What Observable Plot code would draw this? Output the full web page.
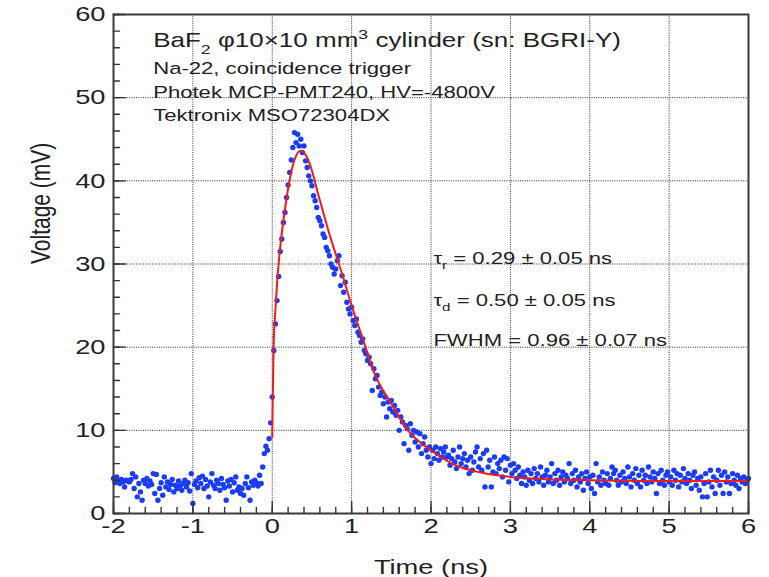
<!DOCTYPE html>
<html><head><meta charset="utf-8">
<script src="https://cdn.jsdelivr.net/npm/d3@7"></script>
<script src="https://cdn.jsdelivr.net/npm/@observablehq/plot@0.6"></script>
<style>body{margin:0;background:#fff;}</style>
</head><body><div id="chart"></div>
<script>
// ---- data ----
const sampleStart = -2;      // ns, first scope sample
const sampleStep = 0.02;     // ns between samples
const baselineVoltage = [
  4.2,3.7,4.4,3.9,3.6,4.1,3.8,3.2,4.0,3.9,
  3.8,4.1,4.8,3.0,4.4,2.0,3.6,2.6,1.6,4.0,
  3.6,4.2,3.3,3.9,3.5,4.8,2.4,4.7,1.6,3.0,
  3.7,2.2,4.4,3.2,3.8,2.9,3.5,4.1,2.6,3.4,
  3.0,3.9,3.3,2.8,3.6,4.0,3.2,3.7,2.7,4.8,
  1.2,3.5,3.9,3.1,4.3,3.6,4.5,3.0,4.1,3.3,
  2.0,3.8,4.8,3.4,3.0,4.0,3.6,2.8,4.2,3.5,
  3.1,1.6,3.9,3.3,4.1,2.6,3.7,4.4,2.8,3.2,
  2.4,3.0,2.2,3.6,4.4,3.1,1.6,3.8,3.4,4.0,
  3.7,3.3,4.6,3.6,5.6,7.2,8.1,7.6,9.0,10.9
];
const pulseVoltage = [
  14.0,19.6,22.8,25.6,28.5,31.5,33.0,35.0,36.2,38.0,
  39.5,41.0,42.5,44.0,45.8,44.6,45.6,44.2,45.0,43.4,44.2,
  42.4,41.6,40.6,40.0,39.4,38.2,37.6,36.8,35.6,35.2,
  34.6,33.6,33.2,32.0,31.6,31.0,30.0,29.6,28.8,29.4,
  30.4,31.0,27.4,28.6,26.6,27.8,25.4,24.6,24.0,24.8,
  23.2,22.6,23.4,21.8,21.4,20.6,21.0,19.6,19.2,18.4
];
const tailVoltage = [
  18.8,18.0,14.8,17.4,16.2,16.6,15.2,14.2,14.6,13.2,
  14.0,11.6,13.4,12.6,13.6,12.2,13.0,11.8,12.4,10.0,
  11.6,11.0,8.4,10.6,10.2,7.6,10.8,9.4,10.0,8.6,
  9.8,8.0,9.6,7.2,8.4,9.2,7.6,6.8,8.0,6.0,
  7.6,6.6,8.0,7.2,6.4,7.8,6.8,7.4,8.0,6.8,
  7.0,5.8,6.6,7.6,6.2,5.4,6.8,8.0,6.0,6.6,
  7.2,5.6,6.4,4.8,6.8,5.2,6.2,7.4,8.0,5.6,
  6.6,5.2,7.2,3.2,7.6,5.6,6.4,3.2,5.0,6.8,
  4.8,6.0,5.4,6.4,4.4,6.8,5.2,6.6,3.8,5.8,
  4.8,6.0,5.2,4.2,5.6,4.6,3.6,5.0,4.4,3.4,
  5.2,4.0,4.8,3.6,5.4,4.2,4.8,3.8,5.6,4.4,
  3.4,4.6,5.2,3.8,4.4,6.0,3.6,4.8,4.0,5.2,
  3.4,4.4,5.0,3.8,4.6,4.2,6.0,3.6,4.8,4.0,
  5.2,3.2,4.4,3.8,4.8,2.8,4.2,5.0,3.6,4.4,
  3.0,4.6,2.4,6.0,3.8,4.4,3.4,5.0,4.0,3.6,
  4.8,3.4,4.2,5.6,4.8,5.2,4.0,3.4,4.6,3.8,
  5.0,4.2,3.6,5.6,4.4,3.2,4.8,4.0,5.4,3.6,
  4.6,3.2,5.2,4.0,4.6,3.6,5.6,4.4,3.8,5.0,
  4.2,2.4,4.8,3.6,5.2,4.0,3.4,4.6,5.0,3.8,
  4.4,3.4,5.2,4.0,4.8,3.2,4.6,3.8,5.4,4.2,
  3.6,4.8,4.0,3.0,4.6,5.0,3.4,4.2,2.8,4.4,
  2.0,3.6,4.8,2.0,3.8,5.2,3.2,4.4,2.4,4.0,
  5.2,3.4,4.6,2.4,5.0,3.8,4.4,2.4,3.6,4.8,
  4.0,3.4,4.6,3.0,4.2,3.8,4.4,3.6,4.0,4.2
];
const fitTime    = [0, 0.005, 0.017, 0.04, 0.06, 0.10, 0.17, 0.25, 0.30, 0.35, 0.40, 0.47, 0.59, 0.72, 0.89, 1.00, 1.14, 1.29, 1.50, 1.71, 2.00, 2.31, 2.64, 3.00, 3.50, 4.00, 5.00, 6.00];
const fitVoltage = [9.2, 13.0, 20.0, 24.5, 27.6, 32.0, 37.2, 41.5, 43.0, 43.6, 43.4, 42.1, 38.0, 33.6, 28.5, 25.0, 21.0, 16.8, 13.2, 10.0, 7.6, 5.8, 4.9, 4.4, 4.1, 4.0, 3.9, 3.9];

const xTicks = [-2, -1, 0, 1, 2, 3, 4, 5, 6];
const yTicks = [0, 10, 20, 30, 40, 50, 60];
const xGrid = [-1, 0, 1, 2, 3, 4, 5];
const yGrid = [10, 20, 30, 40, 50];
const xMinorTicks = d3.range(-20, 61, 2).map(d => d / 10);
const yMinorTicks = d3.range(0, 61, 2);

const titleLine = ["BaF{_2} φ10×10 mm{^3} cylinder (sn: BGRI-Y)"];
const infoLines = ["Na-22, coincidence trigger", "Photek MCP-PMT240, HV=-4800V", "Tektronix MSO72304DX"];
const infoX = -1.5;
const titleY = [56.05];
const infoY = [52.9, 49.96, 47.15];
const fitResults = ["τ{_r} = 0.29 ± 0.05 ns", "τ{_d} = 0.50 ± 0.05 ns", "FWHM = 0.96 ± 0.07 ns"];
const fitResultX = 2.03;
const fitResultY = [30.05, 25.0, 20.2];

// ---- build ----
const voltage = baselineVoltage.concat(pulseVoltage, tailVoltage);
const samples = voltage.map((v, i) => ({t: sampleStart + i * sampleStep, v}));
const fit = fitTime.map((t, i) => ({t, v: fitVoltage[i]}));

const gridStyle = {stroke: "#2a2a2a", strokeOpacity: 1, strokeWidth: 1, strokeDasharray: "1,1.3"};
const tickShape = {draw(context, l) { context.moveTo(0, 0); context.lineTo(0, -l); }};
const tickStroke = {stroke: "#333", strokeWidth: 1.4, anchor: "start", shape: tickShape};

const plot = Plot.plot({
  width: 769, height: 577,
  marginLeft: 113, marginRight: 21, marginTop: 14, marginBottom: 64,
  x: {domain: [-2, 6]},
  y: {domain: [0, 60]},
  style: {fontFamily: "'Liberation Sans', Arial, sans-serif", color: "#222", background: "#fff", overflow: "visible"},
  marks: [
    Plot.gridX(xGrid, gridStyle),
    Plot.gridY(yGrid, gridStyle),
    Plot.dot(samples, {x: "t", y: "v", r: 2.7, fill: "#1a3cf5", stroke: null}),
    Plot.line(fit, {x: "t", y: "v", stroke: "#f21a1a", strokeWidth: 2, curve: "monotone-x"}),
    // inward ticks along the left and bottom axes
    Plot.vector(xMinorTicks, {x: d => d, frameAnchor: "bottom", rotate: 0, length: 6, ...tickStroke}),
    Plot.vector(xTicks, {x: d => d, frameAnchor: "bottom", rotate: 0, length: 12, ...tickStroke}),
    Plot.vector(yMinorTicks, {y: d => d, frameAnchor: "left", rotate: 90, length: 6, ...tickStroke}),
    Plot.vector(yTicks, {y: d => d, frameAnchor: "left", rotate: 90, length: 12, ...tickStroke}),
    Plot.frame({stroke: "#3a3a3a", strokeWidth: 2}),
    Plot.axisX(xTicks, {tickSize: 0, tickPadding: 5, fontSize: 21, label: null, tickFormat: d => String(d)}),
    Plot.axisY(yTicks, {tickSize: 0, tickPadding: 8, fontSize: 21, label: null, tickFormat: d => String(d)}),
    Plot.text(["Time (ns)"], {frameAnchor: "bottom", dy: 60, lineAnchor: "bottom", fontSize: 21, fill: "#222"}),
    Plot.text(["Voltage (mV)"], {frameAnchor: "left", dx: -64, rotate: -90, lineAnchor: "bottom", fontSize: 21, fill: "#222"}),
    Plot.text(titleLine, {x: () => infoX, y: (d, i) => titleY[i], text: d => d, textAnchor: "start", lineAnchor: "bottom", fontSize: 20, fill: "#222"}),
    Plot.text(infoLines, {x: () => infoX, y: (d, i) => infoY[i], text: d => d, textAnchor: "start", lineAnchor: "bottom", fontSize: 17, fill: "#222"}),
    Plot.text(fitResults, {x: () => fitResultX, y: (d, i) => fitResultY[i], text: d => d, textAnchor: "start", lineAnchor: "bottom", fontSize: 17, fill: "#222"})
  ]
});
document.getElementById("chart").appendChild(plot);

// ---- post-process: sub/superscripts and horizontal stretch of the reference ----
const NS = "http://www.w3.org/2000/svg";
plot.querySelectorAll("text").forEach(el => {
  const s = el.textContent;
  if (/\{[_^]/.test(s)) {
    const fs = parseFloat(getComputedStyle(el).fontSize) || 17;
    el.textContent = "";
    const re = /\{([_^])([^}]*)\}/g;
    let last = 0, m, pending = 0;
    const add = (txt, shift, small) => {
      const t = document.createElementNS(NS, "tspan");
      t.textContent = txt;
      const dy = shift - pending;
      if (dy) t.setAttribute("dy", dy);
      pending = shift;
      if (small) t.setAttribute("font-size", (fs * 0.68).toFixed(1));
      el.appendChild(t);
    };
    while ((m = re.exec(s))) {
      if (m.index > last) add(s.slice(last, m.index), 0, false);
      add(m[2], m[1] === "_" ? fs * 0.33 : -fs * 0.42, true);
      last = re.lastIndex;
    }
    if (last < s.length) add(s.slice(last), 0, false);
  }
  const tr = el.getAttribute("transform");
  if (tr) {
    el.setAttribute("transform", tr + (tr.includes("rotate") ? " scale(1,1.3)" : " scale(1.3,1)"));
  } else {
    const x = parseFloat(el.getAttribute("x")) || 0;
    el.setAttribute("transform", `translate(${x},0) scale(1.3,1) translate(${-x},0)`);
  }
});
</script>
</body></html>
